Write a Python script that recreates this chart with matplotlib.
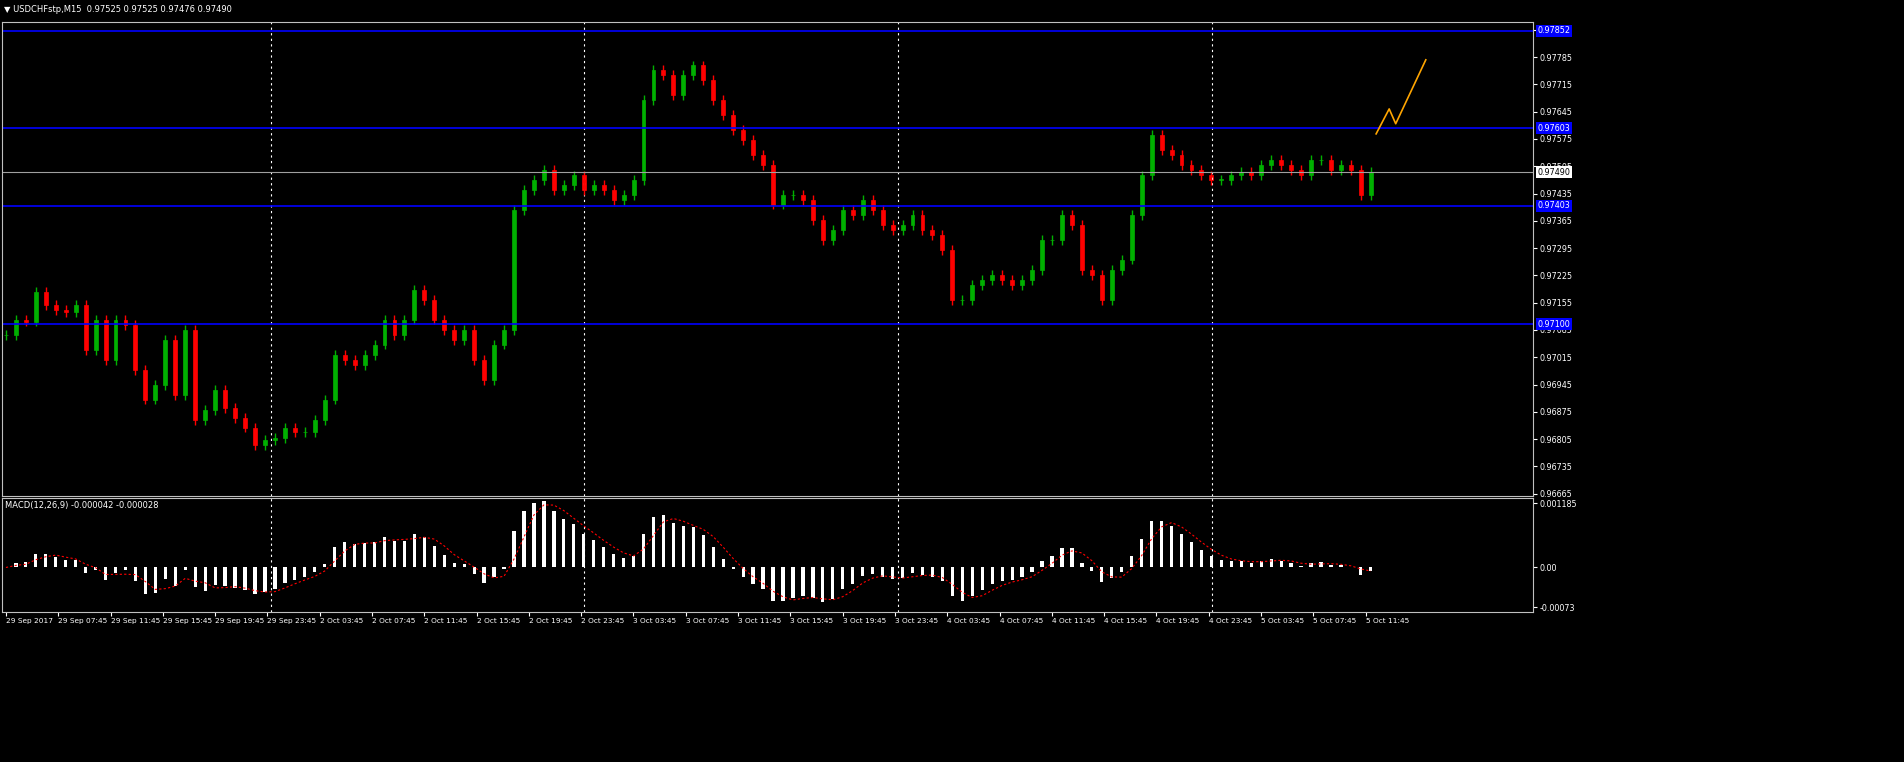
import numpy as np
import pandas as pd
import matplotlib
matplotlib.use("Agg")
import matplotlib.pyplot as plt
from matplotlib.patches import Rectangle

# closes (in 1e-5 units), sampled every ~0.76 h
closes5 = [
    97072, 97111, 97106, 97182, 97149, 97136, 97131, 97149, 97034, 97111,
    97008, 97111, 97098, 96982, 96906, 96944, 97059, 96918, 97085, 96854,
    96880, 96931, 96885, 96859, 96834, 96790, 96803, 96808, 96834, 96823,
    96823, 96854, 96906, 97021, 97008, 96995, 97021, 97047, 97111, 97072,
    97111, 97188, 97162, 97111, 97085, 97059, 97085, 97008, 96957, 97047,
    97085, 97393, 97444, 97470, 97495, 97444, 97457, 97482, 97444, 97457,
    97444, 97418, 97431, 97470, 97675, 97752, 97739, 97688, 97739, 97764,
    97726, 97675, 97636, 97598, 97572, 97534, 97508, 97406, 97431, 97431,
    97418, 97367, 97316, 97341, 97393, 97380, 97418, 97393, 97354, 97341,
    97354, 97380, 97341, 97329, 97290, 97162, 97162, 97200, 97213, 97226,
    97213, 97200, 97213, 97239, 97316, 97316, 97380, 97354, 97239, 97226,
    97162, 97239, 97265, 97380, 97482, 97585, 97547, 97534, 97508, 97495,
    97482, 97470, 97470, 97482, 97490, 97482, 97508, 97521, 97508, 97495,
    97482, 97521, 97521, 97495, 97508, 97495, 97431, 97490,
]
bar_step_h = 0.762
level_prices = [0.97852, 0.97603, 0.97403, 0.97100]
last_price = 0.97490
zig_t = [104.8, 105.8, 106.3, 108.6]
zig_p = [0.97588, 0.97652, 0.97614, 0.97778]
tick_labels = (["29 Sep 2017"] + [f"29 Sep {h}" for h in ["07:45", "11:45", "15:45", "19:45", "23:45"]]
               + [f"{d} Oct {h}" for d in (2, 3, 4) for h in ["03:45", "07:45", "11:45", "15:45", "19:45", "23:45"]]
               + [f"5 Oct {h}" for h in ["03:45", "07:45", "11:45"]])
price_ticks = [0.96665 + 0.0007 * k for k in range(18)]

closes = np.array(closes5) / 1e5
opens = np.r_[closes[0], closes[:-1]]
t = np.arange(len(closes)) * bar_step_h

W, H = 1904, 762
fig = plt.figure(figsize=(W / 100, H / 100), dpi=100, facecolor="black")
ax = fig.add_axes([2 / W, 1 - 496 / H, 1531 / W, 474 / H], facecolor="black")
mx = fig.add_axes([2 / W, 1 - 612 / H, 1531 / W, 114 / H], facecolor="black")
xmax = 1533 * 4 / 52.5
for a in (ax, mx):
    a.set_xlim(-0.3, xmax)
    for s in a.spines.values():
        s.set_color("#c0c0c0")
    a.yaxis.tick_right()
    a.tick_params(colors="white", labelsize=5.8, length=3, pad=2)
    for d in range(4):
        a.axvline(20.25 + 24 * d, color="white", ls=(0, (2, 3)), lw=0.8)

# candles
wick = 0.00012
for ti, o, c in zip(t, opens, closes):
    col = "#00b000" if c >= o else "#ff0000"
    ax.vlines(ti, min(o, c) - wick, max(o, c) + wick, color=col, lw=1)
    ax.add_patch(Rectangle((ti - 0.15, min(o, c)), 0.3, max(abs(c - o), 0.00001),
                           facecolor=col, edgecolor=col, lw=0.5))

ax.set_ylim(0.96659, 0.97875)
ax.set_yticks(price_ticks)
ax.set_yticklabels([f"{p:.5f}" for p in price_ticks])
ax.set_xticks([])
for lp in level_prices:
    ax.axhline(lp, color="#0000ff", lw=1.2)
    ax.text(1.003, lp, f"{lp:.5f}", transform=ax.get_yaxis_transform(), color="white",
            fontsize=5.8, va="center", bbox=dict(facecolor="#0000ff", edgecolor="none", pad=1))
ax.axhline(last_price, color="#a0a0a0", lw=0.8)
ax.text(1.003, last_price, f"{last_price:.5f}", transform=ax.get_yaxis_transform(), color="black",
        fontsize=5.8, va="center", bbox=dict(facecolor="white", edgecolor="none", pad=1))
ax.plot(zig_t, zig_p, color="#ffa500", lw=1.2)
fig.text(4 / W, 1 - 9 / H, "▼ USDCHFstp,M15  0.97525 0.97525 0.97476 0.97490",
         color="white", fontsize=6, va="center")

# MACD
s = pd.Series(closes)
macd = s.ewm(span=4, adjust=False).mean() - s.ewm(span=9, adjust=False).mean()
signal = macd.rolling(3, min_periods=1).mean()
mx.bar(t, macd, width=0.25, color="white")
mx.plot(t, signal, color="#ff0000", ls=(0, (2, 2)), lw=0.8)
mx.set_ylim(-0.00082, 0.00128)
mx.set_yticks([0.001185, 0.0, -0.00073])
mx.set_yticklabels(["0.001185", "0.00", "-0.00073"])
mx.text(0.002, 0.93, "MACD(12,26,9) -0.000042 -0.000028", transform=mx.transAxes,
        color="white", fontsize=6, va="center")
mx.set_xticks([4 * k for k in range(len(tick_labels))])
mx.set_xticklabels(tick_labels, ha="left", fontsize=5.3)
mx.tick_params(axis="x", length=3, pad=1)

fig.savefig("out.png", dpi=100, facecolor="black")
